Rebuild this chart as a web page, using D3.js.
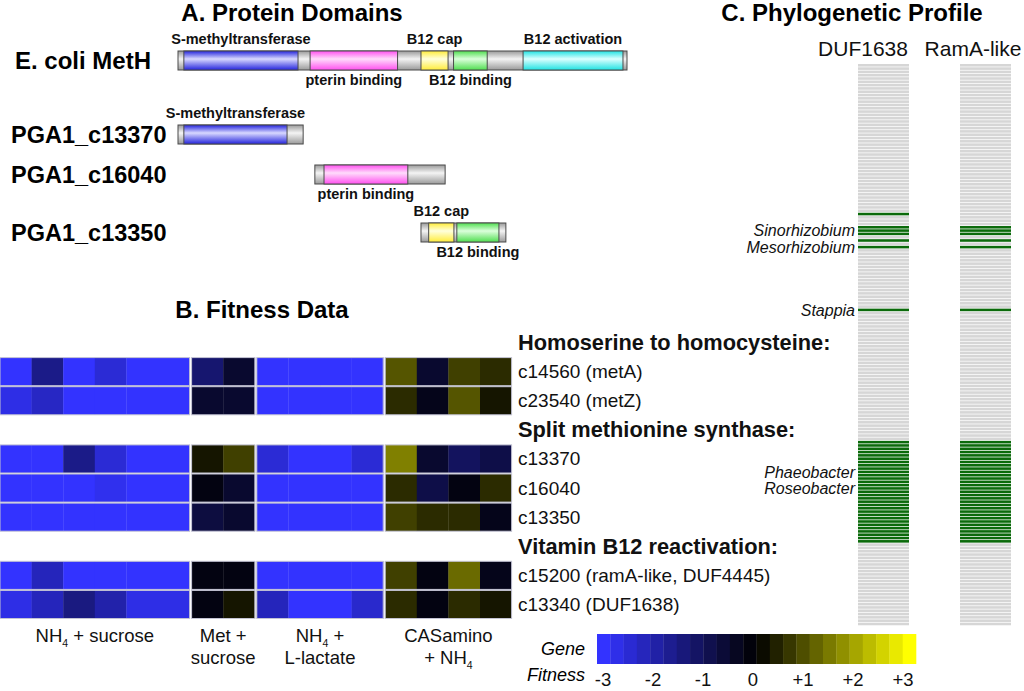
<!DOCTYPE html>
<html>
<head>
<meta charset="utf-8">
<script src="https://cdn.jsdelivr.net/npm/d3@7"></script>
<style>
  body { margin: 0; background: #fff; }
  svg { display: block; font-family: "Liberation Sans", Arial, sans-serif; }
</style>
</head>
<body>
<svg id="fig" width="1024" height="691"></svg>
<script>
// ---- A. protein domains (positions in amino acids, aligned to MetH)
const proteins = ["E. coli MetH", "PGA1_c13370", "PGA1_c16040", "PGA1_c13350"];
const protStart = [0, 0, 374, 664];
const protEnd = [1227, 342, 730, 896];
const domainNames = ["S-methyltransferase", "pterin binding", "B12 cap", "B12 binding", "B12 activation"];
const domProt = [0, 0, 0, 0, 0, 1, 2, 3, 3];
const domType = [0, 1, 2, 3, 4, 0, 1, 2, 3];
const domStart = [16, 361, 664, 753, 943, 16, 399, 685, 762];
const domEnd = [328, 600, 738, 845, 1216, 298, 628, 754, 877];

// ---- B. fitness data
const conditionLines = [["NH4 + sucrose"], ["Met +", "sucrose"], ["NH4 +", "L-lactate"], ["CASamino", "+ NH4"]];
const replicates = [6, 2, 4, 4];
const sections = ["Homoserine to homocysteine:", "Split methionine synthase:", "Vitamin B12 reactivation:"];
const genes = ["c14560 (metA)", "c23540 (metZ)", "c13370", "c16040", "c13350", "c15200 (ramA-like, DUF4445)", "c13340 (DUF1638)"];
const geneSection = [0, 0, 1, 1, 1, 2, 2];
const fitness = [
  [-3, -1.6, -3, -2.5, -3, -3,   -1.3, -0.55,   -3, -3, -3, -3,   1.0, -0.55, 0.75, 0.5],
  [-2.7, -2.3, -3, -3, -3, -3,   -0.55, -0.55,  -3, -3, -3, -3,   0.5, -0.3, 1.0, 0.25],
  [-3, -3, -1.6, -2.5, -3, -3,   0.25, 0.75,    -2.5, -3, -3, -2.5, 1.5, -0.55, -1.1, -0.85],
  [-3, -3, -3, -2.8, -3, -3,     -0.2, -0.55,   -3, -3, -3, -3,   0.5, -0.85, -0.2, 0.5],
  [-3, -3, -3, -3, -3, -3,       -0.75, -0.55,  -3, -3, -3, -3,   0.75, 0.5, 0.5, -0.3],
  [-3, -2.2, -3, -3, -3, -3,     -0.2, -0.2,    -3, -3, -3, -3,   0.75, -0.2, 1.25, -0.3],
  [-2.7, -2.2, -1.5, -2.0, -2.7, -2.7, -0.2, 0.25, -2.2, -3, -3, -2.4, 0.5, -0.2, 0.5, 0.25]
];
const legendTicks = [-3, -2, -1, 0, 1, 2, 3];

// ---- C. phylogenetic profile (row index = genome)
const genomeCount = 170;
const profiles = ["DUF1638", "RamA-like"];
const dufRows = [45, 49, 50, 51, 53, 55, 74, 114, 115, 116, 117, 118, 119, 120, 121, 122, 123, 124, 125, 126, 127, 128, 129, 130, 131, 132, 133, 134, 135, 136, 137, 138, 139, 140, 141, 142, 143, 144];
const ramaRows = [49, 50, 51, 53, 55, 74, 114, 115, 116, 117, 118, 119, 120, 121, 122, 123, 124, 125, 126, 127, 128, 129, 130, 131, 132, 133, 134, 135, 136, 137, 138, 139, 140, 141, 142, 143, 144];
const species = ["Sinorhizobium", "Mesorhizobium", "Stappia", "Phaeobacter", "Roseobacter"];
const speciesRow = [50, 55, 74, 123, 128];

const svg = d3.select("#fig");
const defs = svg.append("defs");

// ================= panel A
const domColors = [["#2424dc", "#d8d8ff"], ["#ff50ef", "#ffdcfb"], ["#ffec3a", "#ffffdc"], ["#50de50", "#dcffdc"], ["#20e2e2", "#dcffff"], ["#9a9a9a", "#f4f4f4"]];
domColors.forEach((c, i) => {
  let g = defs.append("linearGradient").attr("id", "grad" + i)
    .attr("x1", 0).attr("y1", 0).attr("x2", 0).attr("y2", 1);
  g.append("stop").attr("offset", "0%").attr("stop-color", c[0]);
  g.append("stop").attr("offset", "42%").attr("stop-color", c[1]);
  g.append("stop").attr("offset", "100%").attr("stop-color", c[0]);
});

let aa = d3.scaleLinear().domain([0, 1227]).range([178, 627]);
const barTops = [51, 125, 165, 223];
const barH = 19;

svg.append("text").attr("x", 292).attr("y", 21).attr("text-anchor", "middle")
  .attr("font-size", 24).attr("font-weight", "bold").text("A. Protein Domains");

let pA = svg.append("g");
proteins.forEach((p, i) => {
  pA.append("text")
    .attr("x", i == 0 ? 15 : 11).attr("y", barTops[i] + barH / 2 + 8.5)
    .attr("font-size", i == 0 ? 24 : 23.5).attr("font-weight", "bold").text(p);
  pA.append("rect")
    .attr("x", aa(protStart[i])).attr("y", barTops[i])
    .attr("width", aa(protEnd[i]) - aa(protStart[i])).attr("height", barH)
    .attr("fill", "url(#grad5)").attr("stroke", "#4a4a4a").attr("stroke-width", 1);
});

domProt.forEach((p, j) => {
  let x0 = aa(domStart[j]), x1 = aa(domEnd[j]);
  pA.append("rect")
    .attr("x", x0).attr("y", barTops[p]).attr("width", x1 - x0).attr("height", barH)
    .attr("fill", `url(#grad${domType[j]})`).attr("stroke", "#4a4a4a").attr("stroke-width", 1);
  let above = domType[j] % 2 == 0;
  pA.append("text")
    .attr("x", (x0 + x1) / 2)
    .attr("y", above ? barTops[p] - 7 : barTops[p] + barH + 15)
    .attr("text-anchor", "middle").attr("font-size", 14.5).attr("font-weight", "bold")
    .attr("fill", "#111").text(domainNames[domType[j]]);
});

// ================= panel B
svg.append("text").attr("x", 262).attr("y", 318).attr("text-anchor", "middle")
  .attr("font-size", 24).attr("font-weight", "bold").text("B. Fitness Data");

let color = d3.scaleLinear().domain([-3, 0, 3]).range(["#3333ff", "#000000", "#ffff00"]).clamp(true);

// column -> condition group
let colGroup = [];
replicates.forEach((n, g) => { for (let k = 0; k < n; k++) colGroup.push(g); });
let groupFirst = replicates.map((n, g) => colGroup.indexOf(g));

let xCol = d3.scaleLinear().domain([0, colGroup.length]).range([0, 505.6]);
const groupGap = 2;
let colX = c => xCol(c) + colGroup[c] * groupGap;
let colW = xCol(1) - xCol(0);

// rows: section headers interleaved with genes
let rows = [];
sections.forEach((s, si) => {
  rows.push({ type: "header", text: s });
  genes.forEach((g, gi) => { if (geneSection[gi] == si) rows.push({ type: "gene", text: g, i: gi }); });
});
let y = d3.scaleBand().domain(d3.range(rows.length)).range([328, 619]);

let heat = svg.append("g");
rows.forEach((r, ri) => {
  let yc = y(ri) + y.bandwidth() / 2;
  heat.append("text")
    .attr("x", 518).attr("y", r.type == "header" ? yc + 7.5 : yc + 6.5)
    .attr("font-size", r.type == "header" ? 21.8 : 19)
    .attr("font-weight", r.type == "header" ? "bold" : "normal")
    .attr("fill", "#111").text(r.text);
  if (r.type != "gene") return;
  fitness[r.i].forEach((v, c) => {
    heat.append("rect")
      .attr("x", colX(c)).attr("y", y(ri) + 0.5)
      .attr("width", colW + 0.3).attr("height", y.bandwidth() - 1)
      .attr("fill", color(v));
  });
  replicates.forEach((n, g) => {
    heat.append("rect")
      .attr("x", colX(groupFirst[g])).attr("y", y(ri) + 0.5)
      .attr("width", n * colW).attr("height", y.bandwidth() - 1)
      .attr("fill", "none").attr("stroke", "#c4c4d4").attr("stroke-width", 1);
  });
});

// condition labels with NH4 subscript
conditionLines.forEach((lines, g) => {
  let cx = (colX(groupFirst[g]) + colX(groupFirst[g]) + replicates[g] * colW) / 2;
  lines.forEach((line, li) => {
    let t = svg.append("text").attr("x", cx).attr("y", 642 + li * 22)
      .attr("text-anchor", "middle").attr("font-size", 18.5).attr("fill", "#111");
    let parts = line.split(/(?<=NH)(4)/);
    parts.forEach((part, k) => {
      let ts = t.append("tspan").text(part);
      if (k % 2 == 1) ts.attr("font-size", 10.5).attr("dy", 5);
      else if (k > 0) ts.attr("dy", -5);
    });
  });
});

// legend
let legend = svg.append("g");
legend.append("text").attr("x", 585).attr("y", 655).attr("text-anchor", "end")
  .attr("font-size", 18).attr("font-style", "italic").text("Gene");
legend.append("text").attr("x", 585).attr("y", 681).attr("text-anchor", "end")
  .attr("font-size", 18).attr("font-style", "italic").text("Fitness");
const steps = 24;
let stepScale = d3.scaleLinear().domain([0, steps]).range([597, 916]);
let stepValue = d3.scaleLinear().domain([0, steps - 1]).range([-3, 3]);
d3.range(steps).forEach(i => {
  legend.append("rect")
    .attr("x", stepScale(i)).attr("y", 634)
    .attr("width", stepScale(1) - stepScale(0) + 0.3).attr("height", 30)
    .attr("fill", color(stepValue(i)));
});
let tickX = d3.scaleLinear().domain([-3, 3]).range([603, 903]);
legendTicks.forEach(t => {
  legend.append("text").attr("x", tickX(t)).attr("y", 686).attr("text-anchor", "middle")
    .attr("font-size", 18.5).attr("fill", "#111").text(t > 0 ? "+" + t : String(t));
});

// ================= panel C
svg.append("text").attr("x", 852).attr("y", 21).attr("text-anchor", "middle")
  .attr("font-size", 24).attr("font-weight", "bold").text("C. Phylogenetic Profile");

let px = d3.scaleBand().domain(profiles).range([858, 1011]).paddingInner(0.5);
let gy = d3.scaleBand().domain(d3.range(genomeCount)).range([64, 626]);
const headerX = [863, 973];

let pC = svg.append("g");
[dufRows, ramaRows].forEach((present, k) => {
  let name = profiles[k];
  pC.append("text").attr("x", headerX[k]).attr("y", 56).attr("text-anchor", "middle")
    .attr("font-size", 21).attr("fill", "#111").text(name);
  d3.range(genomeCount).forEach(r => {
    let on = present.indexOf(r) != -1;
    pC.append("rect")
      .attr("x", px(name)).attr("y", gy(r))
      .attr("width", px.bandwidth()).attr("height", gy.bandwidth() * 0.78)
      .attr("fill", on ? "#0b6a0b" : "#d6d6d6");
  });
});

species.forEach((s, i) => {
  pC.append("text")
    .attr("x", 855).attr("y", gy(speciesRow[i]) + gy.bandwidth() / 2 + 5.5)
    .attr("text-anchor", "end").attr("font-size", 16).attr("font-style", "italic")
    .attr("fill", "#111").text(s);
});
</script>
</body>
</html>
